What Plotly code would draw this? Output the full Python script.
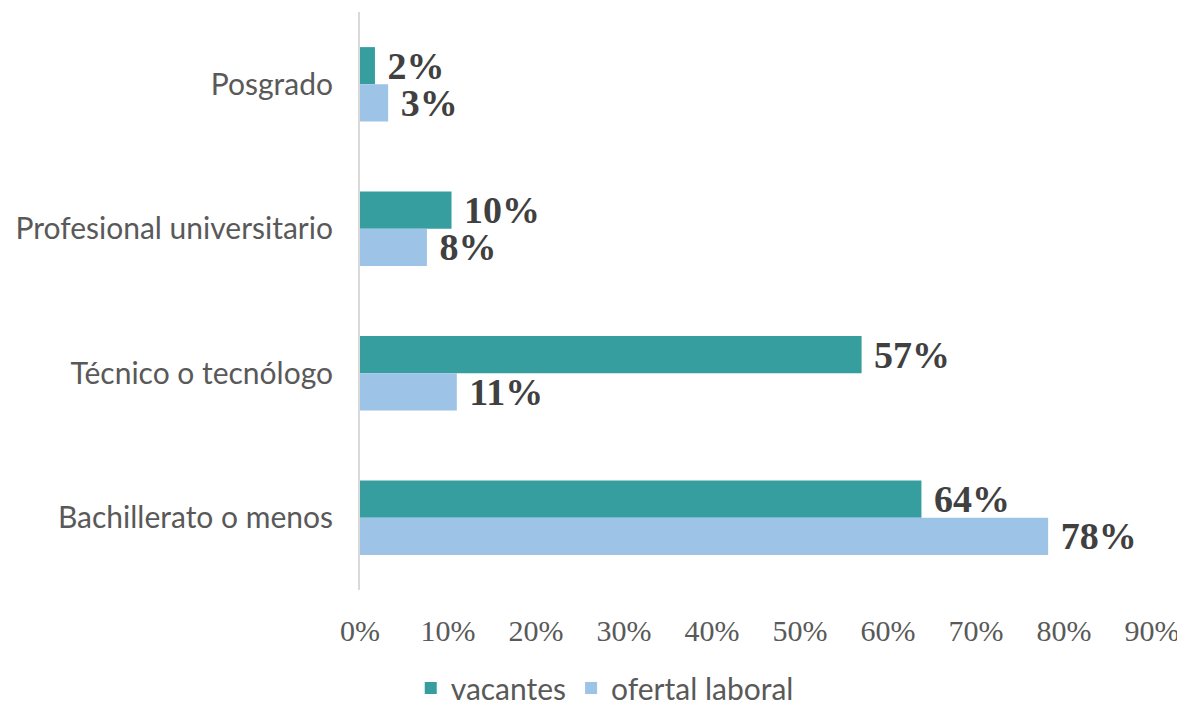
import plotly.graph_objects as go

categories = ["Posgrado", "Profesional universitario", "Técnico o tecnólogo", "Bachillerato o menos"]
vacantes = [1.7, 10.4, 57.0, 63.8]
oferta = [3.2, 7.6, 11.0, 78.2]
series_names = ["vacantes", "ofertal laboral"]
colors = ["#369E9F", "#9DC3E6"]

fig = go.Figure()
for name, vals, col in zip(series_names, [vacantes, oferta], colors):
    fig.add_trace(go.Bar(
        y=categories, x=vals, name=name, orientation="h",
        marker=dict(color=col, line=dict(width=0)),
        texttemplate=" %{x:.0f}%", textposition="outside", constraintext="none",
        textangle=0,
        textfont=dict(family="Liberation Serif", size=38, color="#404040", weight="bold"),
        cliponaxis=False,
    ))

# page body has an 8px margin; figure is sized so it ends at the window edge
fig.update_layout(
    width=1177, height=701,
    margin=dict(l=352, r=33, t=4, b=119, autoexpand=False),
    paper_bgcolor="white", plot_bgcolor="white",
    barmode="group", bargap=0.486, bargroupgap=0,
    showlegend=True,
    legend=dict(orientation="h", xref="container", yref="container",
                x=0.507, xanchor="center", y=0.03, yanchor="middle",
                font=dict(family="Lato", size=30, color="#595959"),
                itemwidth=30, traceorder="normal"),
    xaxis=dict(range=[0, 90], dtick=10, ticksuffix="%", showgrid=False, zeroline=False,
               showline=False, ticks="outside", ticklen=0, ticklabelstandoff=14,
               automargin=False,
               tickfont=dict(family="Liberation Serif", size=30, color="#595959")),
    yaxis=dict(autorange="reversed", showgrid=False, zeroline=False,
               showline=True, linecolor="#D9D9D9", linewidth=2,
               ticks="outside", ticklen=0, ticklabelstandoff=19, automargin=False,
               tickfont=dict(family="Lato", size=30, color="#595959")),
)

fig.write_html("out.html")
